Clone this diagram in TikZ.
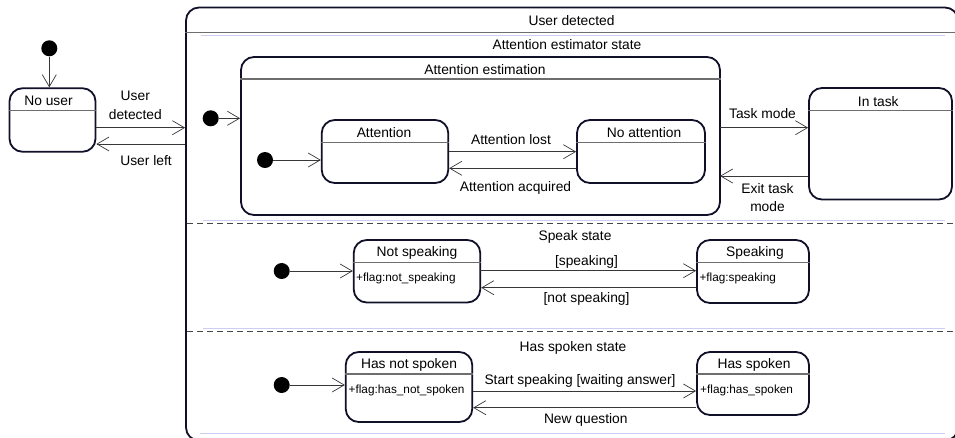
\documentclass[tikz,border=0pt]{standalone}
\usepackage{fontspec}
\setmainfont{Liberation Sans}
\usetikzlibrary{arrows.meta,calc}
\definecolor{boxc}{RGB}{16,16,40}
\definecolor{hdrc}{RGB}{110,110,110}
\definecolor{transc}{RGB}{55,55,55}
\definecolor{sepc}{RGB}{70,70,70}
\definecolor{faintc}{RGB}{205,205,245}
\begin{document}
\begin{tikzpicture}[x=1pt,y=-1pt,
  statebox/.style={draw=boxc, line width=1.8pt, rounded corners=13pt, inner sep=0pt},
  hdr/.style={draw=hdrc, line width=1.3pt},
  lbl/.style={font=\fontsize{13.8}{18.3}\selectfont, inner sep=0pt, align=center},
  flag/.style={font=\fontsize{11.8}{13}\selectfont, inner sep=0pt, anchor=west},
  initdot/.style={circle, fill=black, minimum size=16pt, inner sep=0pt},
  trans/.style={draw=transc, line width=0.9pt, -{Straight Barb[length=12pt,width=14pt,line width=0.7pt]}},
  sep/.style={draw=sepc, dash pattern=on 6pt off 4pt, line width=0.9pt},
  faint/.style={draw=faintc, line width=0.9pt}]

\useasboundingbox (0,0) rectangle (955,437);

% ---------- outer composite state ----------
\begin{scope}
\clip (0,0) rectangle (955,437);
\node[statebox, minimum width=772pt, minimum height=433pt] (outer) at (572,224) {};
\draw[hdr] (outer.west |- 0,32.3) -- (955,32.3);
\end{scope}
\node[lbl] at (571.5,20.5) {User detected};
\draw[faint] (201,35.7) -- (945,35.7);
\node[lbl] at (567,45) {Attention estimator state};

% regions separators
\draw[faint] (203,220) -- (945,220);
\draw[sep] (187,223.5) -- (955,223.5);
\node[lbl] at (575,237) {Speak state};
\draw[faint] (203,328.3) -- (945,328.3);
\draw[sep] (187,331.6) -- (955,331.6);
\node[lbl] at (573,348.3) {Has spoken state};
\draw[faint] (200,433.5) -- (945,433.5);

% ---------- No user ----------
\node[initdot] (init0) at (49.3,48.3) {};
\node[statebox, minimum width=86pt, minimum height=63.5pt] (nouser) at (52.5,120) {};
\draw[hdr] ([yshift=-23.4pt]nouser.north west) -- ([yshift=-23.4pt]nouser.north east);
\node[lbl] at (48.5,101) {No user};
\draw[trans] (init0) -- (init0 |- nouser.north);

\coordinate (ud) at ([yshift=-7.7pt]nouser.east);
\draw[trans] (ud) -- (ud -| outer.west);
\node[lbl] at (135.3,105.3) {User\\detected};
\coordinate (ul) at ([yshift=-24pt]nouser.east);
\draw[trans] (ul -| outer.west) -- (ul);
\node[lbl] at (146,161) {User left};

% ---------- Attention estimation ----------
\node[statebox, minimum width=479pt, minimum height=158pt] (attest) at (480.5,136) {};
\draw[hdr] ([yshift=-23pt]attest.north west) -- ([yshift=-23pt]attest.north east);
\node[lbl] at (485,69.5) {Attention estimation};
\node[initdot] (init1) at (210.7,118.3) {};
\draw[trans] (init1) -- (init1 -| attest.west);

\node[statebox, minimum width=126.5pt, minimum height=63pt] (attn) at (385,151.5) {};
\draw[hdr] ([yshift=-23.3pt]attn.north west) -- ([yshift=-23.3pt]attn.north east);
\node[lbl] at (384,132.5) {Attention};
\node[statebox, minimum width=128pt, minimum height=63pt] (noattn) at (641,151.5) {};
\draw[hdr] ([yshift=-23.3pt]noattn.north west) -- ([yshift=-23.3pt]noattn.north east);
\node[lbl] at (644,132.5) {No attention};

\node[initdot] (init2) at (265,160) {};
\draw[trans] (init2) -- (init2 -| attn.west);
\coordinate (al) at ([yshift=-0.2pt]attn.east);
\draw[trans] (al) -- (al -| noattn.west);
\node[lbl] at (511,139.3) {Attention lost};
\coordinate (aa) at ([yshift=-16.8pt]attn.east);
\draw[trans] (aa -| noattn.west) -- (aa);
\node[lbl] at (515.5,188.3) {Attention acquired};

% ---------- In task ----------
\node[statebox, minimum width=143pt, minimum height=111.5pt] (intask) at (880.5,143.75) {};
\draw[hdr] ([yshift=-23.5pt]intask.north west) -- ([yshift=-23.5pt]intask.north east);
\node[lbl] at (878.3,101.7) {In task};
\coordinate (tm) at (720,127.7);
\draw[trans] (tm) -- (tm -| intask.west);
\node[lbl] at (762.5,113.3) {Task mode};
\coordinate (et) at (720,176);
\draw[trans] (et -| intask.west) -- (et);
\node[lbl] at (767.5,197.5) {Exit task\\mode};

% ---------- Speak state ----------
\node[initdot] (init3) at (281.7,271) {};
\node[statebox, minimum width=126.5pt, minimum height=62.5pt] (nspk) at (417,271.25) {};
\draw[hdr] ([yshift=-23.3pt]nspk.north west) -- ([yshift=-23.3pt]nspk.north east);
\node[lbl] at (417,253) {Not speaking};
\node[flag] at (356,278) {+flag:not\_speaking};
\node[statebox, minimum width=112pt, minimum height=63pt] (spk) at (753,271.5) {};
\draw[hdr] ([yshift=-23.3pt]spk.north west) -- ([yshift=-23.3pt]spk.north east);
\node[lbl] at (755,253) {Speaking};
\node[flag] at (699.3,278) {+flag:speaking};

\draw[trans] (init3) -- (init3 -| nspk.west);
\coordinate (sp) at (480,270.7);
\draw[trans] (sp) -- (sp -| spk.west);
\node[lbl] at (586.5,261.7) {[speaking]};
\coordinate (nsp) at (480,287.7);
\draw[trans] (nsp -| spk.west) -- (nsp -| nspk.east);
\node[lbl] at (586.5,299) {[not speaking]};

% ---------- Has spoken state ----------
\node[initdot] (init4) at (281.7,385) {};
\node[statebox, minimum width=126.5pt, minimum height=70pt] (hns) at (409,387) {};
\draw[hdr] ([yshift=-23pt]hns.north west) -- ([yshift=-23pt]hns.north east);
\node[lbl] at (409,365) {Has not spoken};
\node[flag] at (348.5,390) {+flag:has\_not\_spoken};
\node[statebox, minimum width=112pt, minimum height=63pt] (hs) at (753,383.5) {};
\draw[hdr] ([yshift=-23pt]hs.north west) -- ([yshift=-23pt]hs.north east);
\node[lbl] at (754,365) {Has spoken};
\node[flag] at (700,390) {+flag:has\_spoken};

\draw[trans] (init4) -- (init4 -| hns.west);
\coordinate (ss) at (472,391);
\draw[trans] (ss -| hns.east) -- (ss -| hs.west);
\node[lbl] at (580,380.7) {Start speaking [waiting answer]};
\coordinate (nq) at (472,407.7);
\draw[trans] (nq -| hs.west) -- (nq -| hns.east);
\node[lbl] at (585.8,420) {New question};
\end{tikzpicture}
\end{document}
